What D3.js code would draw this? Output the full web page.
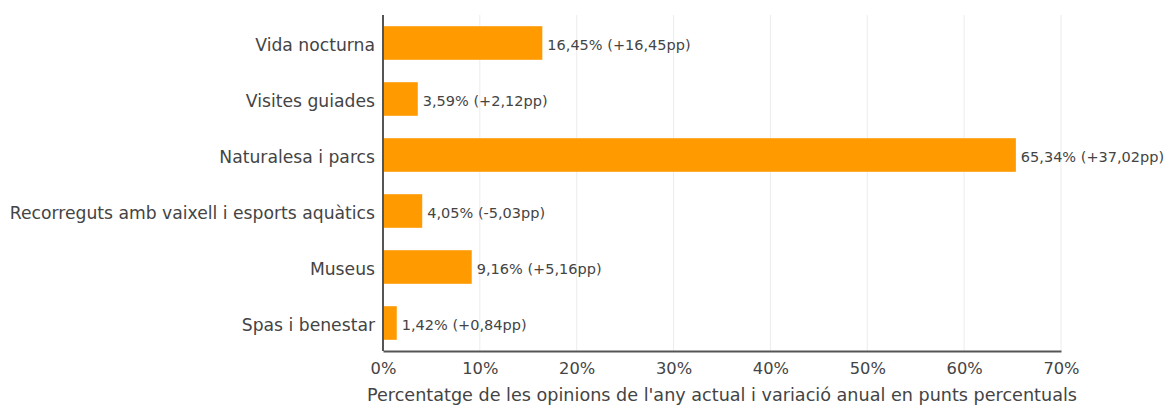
<!DOCTYPE html>
<html>
<head>
<meta charset="utf-8">
<script src="https://cdn.jsdelivr.net/npm/d3@7"></script>
<style>
  body { margin: 0; background: #fff; }
  svg { font-family: "DejaVu Sans", sans-serif; }
</style>
</head>
<body>
<svg id="chart" width="1173" height="405"></svg>
<script>
// Dades
const categories = ['Vida nocturna', 'Visites guiades', 'Naturalesa i parcs',
  'Recorreguts amb vaixell i esports aquàtics', 'Museus', 'Spas i benestar'];
const percentatges = [16.45, 3.59, 65.34, 4.05, 9.16, 1.42];
const variacions = [16.45, 2.12, 37.02, -5.03, 5.16, 0.84];
const ticks = [0, 10, 20, 30, 40, 50, 60, 70];
const titolEix = "Percentatge de les opinions de l'any actual i variació anual en punts percentuals";

const svg = d3.select('#chart');
const margin = { left: 383, right: 112, top: 15, bottom: 54 };
const width = 1173, height = 405;

const x = d3.scaleLinear().domain([0, 70]).range([margin.left, width - margin.right]);
const y = d3.scaleBand().domain(categories)
  .range([margin.top, height - margin.bottom])
  .paddingInner(0.4).paddingOuter(0.2);

const fmt = v => v.toFixed(2).replace('.', ',');

// Línies de la graella
svg.append('g').selectAll('line')
  .data(ticks.slice(1))
  .enter().append('line')
  .attr('x1', d => x(d)).attr('x2', d => x(d))
  .attr('y1', margin.top).attr('y2', height - margin.bottom)
  .attr('stroke', '#ececec').attr('stroke-width', 1);

// Barres
svg.append('g').selectAll('rect')
  .data(categories)
  .enter().append('rect')
  .attr('x', x(0))
  .attr('y', d => y(d))
  .attr('width', (d, i) => x(percentatges[i]) - x(0))
  .attr('height', y.bandwidth())
  .attr('fill', '#ff9a00');

// Etiquetes de valor
svg.append('g').selectAll('text')
  .data(categories)
  .enter().append('text')
  .attr('x', (d, i) => x(percentatges[i]) + 5)
  .attr('y', d => y(d) + y.bandwidth() / 2)
  .attr('dy', '0.45em')
  .attr('font-size', 14.5)
  .attr('fill', '#444')
  .text((d, i) => `${fmt(percentatges[i])}% (${variacions[i] >= 0 ? '+' : ''}${fmt(variacions[i])}pp)`);

// Eix Y
const yAxis = svg.append('g')
  .attr('transform', `translate(${x(0)},0)`)
  .call(d3.axisLeft(y).tickSize(0).tickPadding(8));
yAxis.select('.domain').attr('stroke', '#555').attr('stroke-width', 2)
  .attr('d', `M0,${margin.top}V${height - margin.bottom}`);
yAxis.selectAll('text').attr('font-size', 17.2).attr('fill', '#444')
  .attr('dy', '0.45em')
  .attr('font-family', '"DejaVu Sans", sans-serif');

// Eix X
const xAxis = svg.append('g')
  .attr('transform', `translate(0,${height - margin.bottom})`)
  .call(d3.axisBottom(x).tickValues(ticks).tickFormat(d => d + '%').tickSize(0).tickPadding(11));
xAxis.select('.domain').attr('stroke', '#555').attr('stroke-width', 2);
xAxis.selectAll('text').attr('font-size', 16.3).attr('fill', '#444')
  .attr('font-family', '"DejaVu Sans", sans-serif');

// Títol de l'eix
svg.append('text')
  .attr('x', (x(0) + x(70)) / 2)
  .attr('y', 401)
  .attr('text-anchor', 'middle')
  .attr('font-size', 17.6)
  .attr('fill', '#444')
  .text(titolEix);
</script>
</body>
</html>
